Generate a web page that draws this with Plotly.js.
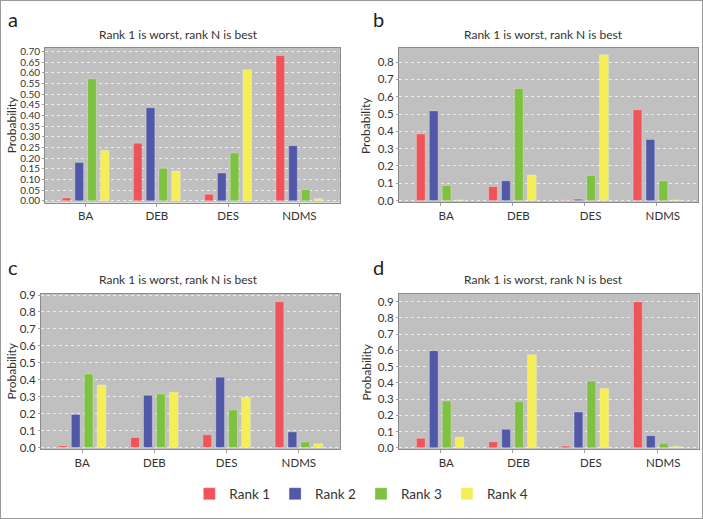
<!DOCTYPE html>
<html>
<head>
<meta charset="utf-8">
<script src="https://cdn.plot.ly/plotly-3.0.1.min.js"></script>
<style>
  html, body { margin: 0; padding: 0; background: #fff; }
  #chart { width: 703px; height: 519px; }
</style>
</head>
<body>
<div id="chart"></div>
<script>
// ── Data ────────────────────────────────────────────────────────────────────
const CATS   = ['BA', 'DEB', 'DES', 'NDMS'];
const RANKS  = ['Rank 1', 'Rank 2', 'Rank 3', 'Rank 4'];
const PANELS = ['a', 'b', 'c', 'd'];
const TITLE  = 'Rank 1 is worst, rank N is best';

// one array per rank, values in CATS order
const A_R1 = [0.013, 0.270, 0.031, 0.681];
const A_R2 = [0.180, 0.436, 0.130, 0.258];
const A_R3 = [0.572, 0.153, 0.225, 0.052];
const A_R4 = [0.236, 0.140, 0.614, 0.010];

const B_R1 = [0.385, 0.081, 0.002, 0.524];
const B_R2 = [0.518, 0.114, 0.008, 0.353];
const B_R3 = [0.087, 0.647, 0.145, 0.114];
const B_R4 = [0.004, 0.148, 0.842, 0.004];

const C_R1 = [0.010, 0.059, 0.075, 0.860];
const C_R2 = [0.195, 0.308, 0.415, 0.092];
const C_R3 = [0.434, 0.316, 0.222, 0.033];
const C_R4 = [0.369, 0.326, 0.297, 0.022];

const D_R1 = [0.058, 0.037, 0.010, 0.900];
const D_R2 = [0.598, 0.113, 0.220, 0.074];
const D_R3 = [0.288, 0.284, 0.411, 0.027];
const D_R4 = [0.064, 0.573, 0.364, 0.008];

const PANEL_DATA = [
  [A_R1, A_R2, A_R3, A_R4],
  [B_R1, B_R2, B_R3, B_R4],
  [C_R1, C_R2, C_R3, C_R4],
  [D_R1, D_R2, D_R3, D_R4],
];

// ── Styling ─────────────────────────────────────────────────────────────────
const W = 703, H = 519;
const COLORS = ['#ef545a', '#5158a8', '#7fc242', '#f4ee57'];
const FONT   = 'Lato, "Open Sans", sans-serif';
const NARROW = '"Liberation Sans Narrow", Lato, sans-serif';
const TXT    = '#333333';

// plot boxes in pixels: [left, right, top, bottom]
const BOX = [
  [45, 340, 48, 202.5],
  [399, 698, 48, 202],
  [41, 340, 294, 449],
  [399, 698.5, 294, 449],
];
const YRANGE = [[-0.008, 0.716], [-0.008, 0.881], [-0.009, 0.906], [-0.008, 0.947]];
const YDTICK = [0.05, 0.1, 0.1, 0.1];
const YFMT   = ['.2f', '.1f', '.1f', '.1f'];
const YTICK_SIZE  = [10, 11.5, 11.5, 11.5];   // panel a has tightly packed ticks
const LABEL_SHIFT = [0, 6, 0, 6];

const px = x => x / W;
const py = y => 1 - y / H;

// ── Traces ──────────────────────────────────────────────────────────────────
const traces = [];
PANEL_DATA.forEach((ranks, p) => {
  const sfx = p === 0 ? '' : String(p + 1);
  ranks.forEach((vals, r) => {
    traces.push({
      type: 'bar', x: CATS, y: vals, name: RANKS[r],
      xaxis: 'x' + sfx, yaxis: 'y' + sfx,
      showlegend: p === 0, legendgroup: RANKS[r],
      marker: { color: COLORS[r], line: { color: 'rgba(255,255,255,0.35)', width: 0.8 } },
      hoverinfo: 'x+y+name',
    });
  });
});

// ── Layout ──────────────────────────────────────────────────────────────────
const layout = {
  width: W, height: H,
  margin: { l: 0, r: 0, t: 0, b: 0 },
  paper_bgcolor: '#ffffff',
  plot_bgcolor: '#c0c0c0',
  font: { family: FONT, color: TXT, size: 11 },
  barmode: 'group', bargap: 0.285, bargroupgap: 0.32,
  showlegend: true,
  legend: {
    orientation: 'h', x: 0.514, xanchor: 'center', y: py(494), yanchor: 'middle',
    font: { size: 13.5, color: TXT, family: FONT }, traceorder: 'normal',
    itemclick: false,
  },
  annotations: [],
  shapes: [{
    type: 'rect', xref: 'paper', yref: 'paper', x0: 0, x1: 1, y0: 0, y1: 1,
    line: { color: '#9a9a9a', width: 2 }, layer: 'above',
  }],
};

const TITLE_X  = [178, 543, 178, 543];
const TITLE_Y  = [35, 35, 279, 279];
const LETTER_X = [13, 378, 13, 378];
const LETTER_Y = [19, 19, 267, 267];
const YTITLE_X = [11, 366, 11, 366];

BOX.forEach((b, p) => {
  const sfx = p === 0 ? '' : String(p + 1);
  layout['xaxis' + sfx] = {
    domain: [px(b[0]), px(b[1])], anchor: 'y' + sfx,
    range: [-0.57, 3.57], showgrid: false, zeroline: false,
    showline: true, linecolor: '#8c8c8c', linewidth: 1, mirror: true,
    ticks: 'outside', ticklen: 3, tickcolor: '#a0a0a0',
    tickfont: { size: 11.5, color: TXT }, ticklabelshift: LABEL_SHIFT[p],
    fixedrange: true,
  };
  layout['yaxis' + sfx] = {
    domain: [py(b[3]), py(b[2])], anchor: 'x' + sfx,
    range: YRANGE[p], dtick: YDTICK[p], tick0: 0, tickformat: YFMT[p],
    showgrid: true, gridcolor: 'rgba(255,255,255,0.7)', gridwidth: 1, griddash: 'dot',
    zeroline: false,
    showline: true, linecolor: '#8c8c8c', linewidth: 1, mirror: true,
    ticks: 'outside', ticklen: 2, tickcolor: '#a0a0a0',
    tickfont: { size: YTICK_SIZE[p], color: TXT, family: NARROW },
    fixedrange: true,
  };
  layout.annotations.push(
    { text: TITLE, xref: 'paper', yref: 'paper', x: px(TITLE_X[p]), y: py(TITLE_Y[p]),
      xanchor: 'center', yanchor: 'middle', showarrow: false,
      font: { size: 12, color: TXT } },
    { text: PANELS[p], xref: 'paper', yref: 'paper', x: px(LETTER_X[p]), y: py(LETTER_Y[p]),
      xanchor: 'center', yanchor: 'middle', showarrow: false,
      font: { size: 20, color: '#222' } },
    { text: 'Probability', xref: 'paper', yref: 'paper', x: px(YTITLE_X[p]),
      y: py((b[2] + b[3]) / 2), textangle: -90,
      xanchor: 'center', yanchor: 'middle', showarrow: false,
      font: { size: 12, color: TXT } }
  );
});

Plotly.newPlot('chart', traces, layout, { displayModeBar: false, staticPlot: true });
</script>
</body>
</html>
